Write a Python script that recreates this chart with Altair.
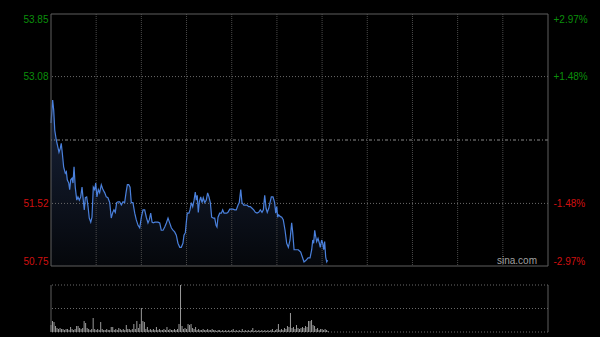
import altair as alt
import pandas as pd

# ---------------- data ----------------
# minutes after the open (HK session: 330 trading minutes) and traded price
minutes = [0, 1.1, 1.8, 2.5, 3.5, 4.6, 5.3, 6.2, 6.8, 7.5,
           8.4, 9.5, 10.2, 10.8, 11.8, 12.4, 13.1, 14.0, 14.6, 15.3,
           16.1, 17.1, 17.9, 18.8, 19.7, 20.6, 21.2, 22.1, 22.8, 23.7,
           24.6, 25.4, 26.4, 27.2, 28.1, 29.0, 29.7, 30.5, 31.4, 32.3,
           33.4, 34.5, 35.7, 36.7, 37.8, 39.0, 40.0, 41.0, 41.8, 42.7,
           43.6, 44.5, 45.6, 46.7, 47.8, 48.9, 49.8, 50.7, 51.6, 52.5,
           53.3, 54.4, 55.6, 56.6, 57.8, 58.9, 60.0, 61.1, 62.2, 63.3,
           64.4, 65.3, 66.2, 67.1, 67.9, 68.9, 69.9, 71.0, 72.2, 73.2,
           74.4, 75.5, 76.6, 77.7, 78.8, 79.9, 81.0, 82.1, 83.2, 84.3,
           85.5, 86.5, 87.6, 88.3, 89.2, 89.8, 90.5, 91.6, 92.3, 93.2,
           94.1, 95.0, 95.8, 96.5, 97.1, 97.8, 98.5, 99.4, 100.3, 101.1,
           102.1, 103.1, 104.0, 104.9, 105.8, 106.7, 107.8, 108.7, 109.6, 110.2,
           110.9, 112.0, 113.1, 114.0, 114.9, 115.7, 116.7, 117.5, 118.7, 119.7,
           120.8, 122.0, 123.0, 124.2, 125.0, 126.0, 126.8, 128.0, 129.0, 130.1,
           131.3, 132.3, 133.5, 134.6, 135.7, 136.8, 137.9, 139.0, 140.1, 141.0,
           141.9, 142.8, 143.6, 144.6, 145.4, 146.3, 147.4, 148.5, 149.2, 149.9,
           150.5, 151.2, 152.1, 153.2, 154.2, 155.4, 156.5, 157.6, 158.7, 159.8,
           160.5, 161.4, 162.7, 164.2, 165.8, 166.9, 168.0, 169.3, 170.7, 172.0,
           173.1, 173.8, 174.4, 175.1, 175.8, 176.4, 177.3, 178.2, 178.8, 179.7,
           180.4, 181.1, 181.7, 182.4, 183.1, 183.7]
prices = [52.51, 52.79, 52.67, 52.42, 52.30, 52.21, 52.15, 52.20, 52.26, 52.14,
          51.97, 51.89, 51.91, 51.81, 51.77, 51.69, 51.81, 51.83, 51.77, 51.97,
          51.72, 51.56, 51.60, 51.56, 51.60, 51.72, 51.60, 51.44, 51.59, 51.60,
          51.48, 51.34, 51.29, 51.35, 51.72, 51.69, 51.77, 51.60, 51.69, 51.65,
          51.75, 51.69, 51.65, 51.60, 51.59, 51.53, 51.34, 51.41, 51.44, 51.41,
          51.53, 51.54, 51.54, 51.50, 51.54, 51.53, 51.65, 51.75, 51.75, 51.72,
          51.53, 51.53, 51.40, 51.32, 51.25, 51.22, 51.35, 51.44, 51.44, 51.35,
          51.28, 51.32, 51.40, 51.29, 51.28, 51.29, 51.29, 51.29, 51.28, 51.19,
          51.19, 51.23, 51.28, 51.34, 51.28, 51.22, 51.19, 51.17, 51.13, 51.03,
          50.98, 50.98, 51.03, 51.13, 51.16, 51.28, 51.40, 51.40, 51.44, 51.53,
          51.48, 51.56, 51.66, 51.56, 51.62, 51.41, 51.54, 51.60, 51.53, 51.59,
          51.53, 51.56, 51.65, 51.60, 51.53, 51.35, 51.34, 51.34, 51.25, 51.23,
          51.35, 51.40, 51.40, 51.44, 51.40, 51.40, 51.40, 51.41, 51.45, 51.45,
          51.45, 51.44, 51.44, 51.50, 51.53, 51.69, 51.53, 51.50, 51.50, 51.50,
          51.48, 51.48, 51.46, 51.44, 51.41, 51.40, 51.41, 51.44, 51.41, 51.44,
          51.62, 51.46, 51.41, 51.46, 51.53, 51.60, 51.60, 51.53, 51.40, 51.48,
          51.35, 51.38, 51.36, 51.35, 51.32, 51.19, 51.03, 50.98, 51.07, 51.28,
          51.16, 50.95, 50.95, 50.95, 50.92, 50.86, 50.80, 50.82, 50.85, 50.85,
          50.95, 51.07, 51.03, 51.19, 51.11, 51.05, 51.09, 51.03, 50.98, 51.07,
          51.03, 50.95, 51.05, 50.86, 50.80, 50.82]

# per-minute volume (thousand shares)
volumes = [70, 110, 100, 60, 40, 30, 40, 30, 30, 20,
           30, 30, 20, 50, 30, 20, 30, 60, 60, 40,
           30, 40, 110, 90, 40, 30, 20, 30, 140, 30,
           20, 30, 20, 100, 30, 20, 20, 30, 20, 20,
           50, 50, 20, 30, 20, 40, 30, 20, 30, 20,
           70, 30, 30, 20, 30, 80, 30, 110, 40, 80,
           240, 110, 100, 30, 50, 20, 30, 20, 30, 20,
           50, 20, 30, 20, 20, 30, 20, 50, 20, 30,
           20, 20, 30, 20, 30, 80, 470, 60, 30, 40,
           30, 80, 70, 80, 40, 30, 50, 20, 30, 20,
           20, 30, 20, 20, 30, 20, 20, 30, 20, 20,
           10, 20, 20, 10, 20, 10, 20, 10, 20, 10,
           20, 30, 10, 20, 10, 20, 10, 30, 10, 20,
           10, 20, 10, 20, 40, 10, 20, 10, 20, 10,
           20, 10, 20, 10, 20, 10, 20, 30, 10, 20,
           30, 80, 20, 30, 20, 40, 30, 60, 50, 190,
           40, 50, 30, 70, 40, 30, 40, 50, 40, 60,
           50, 110, 110, 120, 70, 60, 30, 40, 20, 30,
           30, 20, 30, 20, 10]
vol_minutes = list(range(len(volumes)))

prev_close = 52.30
price_ticks = [53.85, 53.08, 51.52, 50.75]
pct_labels = ["+2.97%", "+1.48%", "-1.48%", "-2.97%"]
grid_prices = [53.08, 51.52]
vgrid_minutes = [30, 60, 90, 120, 150, 180, 210, 240, 270, 300]
session = [0, 330]
vol_top = 470
vol_grid = [470, 235, 0]

# ---------------- styling ----------------
FONT = "Liberation Sans"
GREEN = "#0b8f0b"
RED = "#d01010"
FRAME = "#5f5f5f"
LINE = "#4a80dc"

W, H = 497, 318
PRICE_RANGE = [252, 0]
VOL_RANGE = [318, 271]

xs = alt.Scale(domain=session, nice=False, zero=False)
ps = alt.Scale(domain=[price_ticks[-1], price_ticks[0]], range=PRICE_RANGE, nice=False, zero=False)
vs = alt.Scale(domain=[0, vol_top], range=VOL_RANGE, nice=False, zero=False)

price_df = pd.DataFrame({"minute": minutes, "price": prices})
vol_df = pd.DataFrame({"minute": vol_minutes, "volume": volumes})

X = alt.X("minute:Q", scale=xs, axis=None)

grad = alt.Gradient(
    gradient="linear",
    stops=[alt.GradientStop(color="#18233a", offset=0),
           alt.GradientStop(color="#05070b", offset=1)],
    x1=1, x2=1, y1=0, y2=1,
)

area = alt.Chart(price_df).mark_area(fill=grad, line=False).encode(
    x=X,
    y=alt.Y("price:Q", scale=ps, axis=None),
    y2=alt.Y2Datum(price_ticks[-1]),
)
line = alt.Chart(price_df).mark_line(color=LINE, strokeWidth=1.2).encode(
    x=X, y=alt.Y("price:Q", scale=ps, axis=None)
)
hgrid = alt.Chart(pd.DataFrame({"price": grid_prices})).mark_rule(
    color="#6a6a6a", strokeDash=[1, 2], strokeWidth=1
).encode(y=alt.Y("price:Q", scale=ps, axis=None))
mid = alt.Chart(pd.DataFrame({"price": [prev_close]})).mark_rule(
    color="#8a8a8a", strokeDash=[3, 2, 1, 2], strokeWidth=1
).encode(y=alt.Y("price:Q", scale=ps, axis=None))
vgrid = alt.Chart(pd.DataFrame({"minute": vgrid_minutes})).mark_rule(
    color="#4a4a4a", strokeDash=[1, 1], strokeWidth=1
).encode(
    x=X,
    y=alt.YDatum(price_ticks[0], scale=ps, axis=None),
    y2=alt.Y2Datum(price_ticks[-1]),
)
frame_h = alt.Chart(pd.DataFrame({"price": [price_ticks[0], price_ticks[-1]]})).mark_rule(
    color=FRAME, strokeWidth=1
).encode(y=alt.Y("price:Q", scale=ps, axis=None))
frame_v = alt.Chart(pd.DataFrame({"minute": session})).mark_rule(
    color=FRAME, strokeWidth=1
).encode(
    x=X,
    y=alt.YDatum(price_ticks[0], scale=ps, axis=None),
    y2=alt.Y2Datum(price_ticks[-1]),
)
watermark = alt.Chart(pd.DataFrame({"t": ["sina.com"]})).mark_text(
    font=FONT, fontSize=10, color="#a0a0a0", align="right", baseline="middle"
).encode(text="t:N", x=alt.value(486), y=alt.value(247))

price_layer = alt.layer(area, vgrid, hgrid, mid, line, frame_h, frame_v, watermark)

bars = alt.Chart(vol_df).mark_rule(color="#9a9a9a", strokeWidth=1).encode(
    x=X,
    y=alt.Y("volume:Q", scale=vs, axis=None),
    y2=alt.Y2Datum(0),
)
vgridlines = alt.Chart(pd.DataFrame({"volume": vol_grid})).mark_rule(
    color="#6a6a6a", strokeDash=[1, 2], strokeWidth=1
).encode(y=alt.Y("volume:Q", scale=vs, axis=None))
vframe = alt.Chart(pd.DataFrame({"minute": session})).mark_rule(
    color=FRAME, strokeWidth=1
).encode(
    x=X,
    y=alt.YDatum(vol_top, scale=vs, axis=None),
    y2=alt.Y2Datum(0),
)
volume_layer = alt.layer(vgridlines, bars, vframe)

color_cond = {"condition": {"test": f"datum.value > {prev_close}", "value": GREEN}, "value": RED}

tick_df = pd.DataFrame({"price": price_ticks})
left_axis = alt.Chart(tick_df).mark_rule(opacity=0).encode(
    y=alt.Y("price:Q", scale=ps, axis=alt.Axis(
        orient="left", values=price_ticks, format=".2f", labelFlush=True,
        grid=False, ticks=False, domain=False, title=None, labelPadding=3,
        labelFont=FONT, labelFontSize=10, labelColor=color_cond,
    ))
)
pct_expr = " : ".join(
    f"datum.label == '{p:.2f}' ? '{l}'" for p, l in zip(price_ticks, pct_labels)
) + " : ''"
right_axis = alt.Chart(tick_df).mark_rule(opacity=0).encode(
    y=alt.Y("price:Q", scale=ps, axis=alt.Axis(
        orient="right", values=price_ticks, format=".2f", labelFlush=True,
        labelExpr=pct_expr,
        grid=False, ticks=False, domain=False, title=None, labelPadding=5,
        labelFont=FONT, labelFontSize=10, labelColor=color_cond,
    ))
)

chart = alt.layer(price_layer, volume_layer, left_axis, right_axis).resolve_scale(
    y="independent"
).properties(
    width=W, height=H,
    autosize=alt.AutoSizeParams(type="none"),
    padding={"left": 51, "right": 52, "top": 14, "bottom": 5},
    background="#000000",
).configure_view(stroke=None)

chart.save("out.html", embed_options={"renderer": "svg", "actions": False})
